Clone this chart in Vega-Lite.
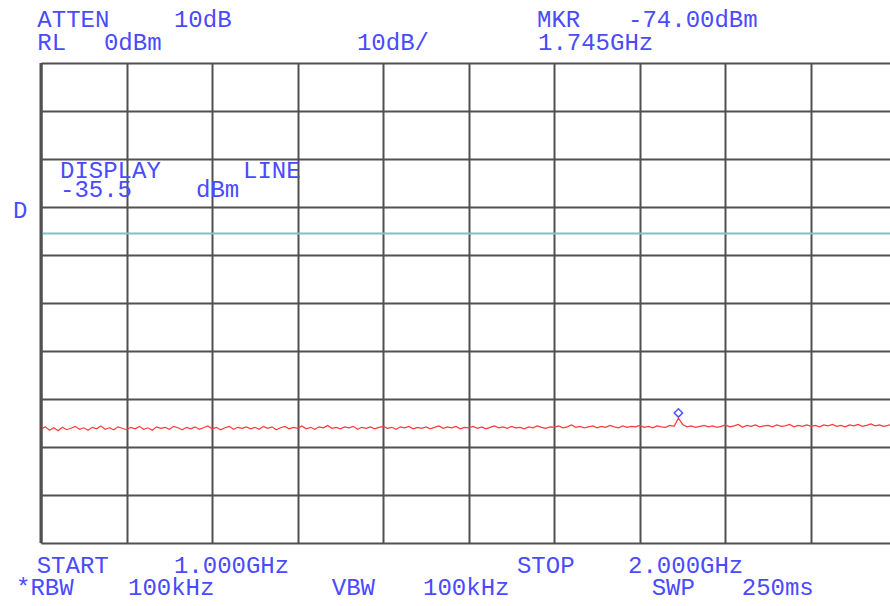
{
"$schema": "https://vega.github.io/schema/vega-lite/v6.json",
"width": 849, "height": 480,
"autosize": {"type": "none"},
"padding": {"left": 41, "top": 63, "right": 0, "bottom": 63},
"background": "white",
"config": {"view": {"stroke": null},
"axis": {"grid": true, "gridColor": "#505050", "gridWidth": 2, "gridOpacity": 1, "labels": false, "ticks": false, "domain": false}},
"datasets": {
"trace": [
{"f":1.000,"v":-76.3},{"f":1.005,"v":-75.8},{"f":1.010,"v":-76.5},{"f":1.015,"v":-76.0},{"f":1.020,"v":-76.6},{"f":1.025,"v":-75.9},{"f":1.030,"v":-76.4},{"f":1.035,"v":-76.1},{"f":1.040,"v":-75.7},{"f":1.045,"v":-76.3},
{"f":1.050,"v":-76.0},{"f":1.055,"v":-76.5},{"f":1.060,"v":-75.9},{"f":1.065,"v":-76.2},{"f":1.070,"v":-75.6},{"f":1.075,"v":-76.3},{"f":1.080,"v":-76.0},{"f":1.085,"v":-76.4},{"f":1.090,"v":-75.8},{"f":1.095,"v":-76.1},
{"f":1.100,"v":-76.4},{"f":1.105,"v":-75.9},{"f":1.110,"v":-76.2},{"f":1.115,"v":-75.7},{"f":1.120,"v":-76.3},{"f":1.125,"v":-76.0},{"f":1.130,"v":-76.5},{"f":1.135,"v":-75.8},{"f":1.140,"v":-76.1},{"f":1.145,"v":-75.9},
{"f":1.150,"v":-76.3},{"f":1.155,"v":-75.7},{"f":1.160,"v":-76.0},{"f":1.165,"v":-76.4},{"f":1.170,"v":-75.9},{"f":1.175,"v":-76.2},{"f":1.180,"v":-75.8},{"f":1.185,"v":-76.3},{"f":1.190,"v":-76.0},{"f":1.195,"v":-75.6},
{"f":1.200,"v":-76.2},{"f":1.205,"v":-75.9},{"f":1.210,"v":-76.4},{"f":1.215,"v":-76.0},{"f":1.220,"v":-75.7},{"f":1.225,"v":-76.3},{"f":1.230,"v":-75.9},{"f":1.235,"v":-76.1},{"f":1.240,"v":-75.8},{"f":1.245,"v":-76.2},
{"f":1.250,"v":-75.9},{"f":1.255,"v":-76.3},{"f":1.260,"v":-75.7},{"f":1.265,"v":-76.1},{"f":1.270,"v":-75.8},{"f":1.275,"v":-76.4},{"f":1.280,"v":-76.0},{"f":1.285,"v":-75.7},{"f":1.290,"v":-76.2},{"f":1.295,"v":-75.9},
{"f":1.300,"v":-76.1},{"f":1.305,"v":-75.6},{"f":1.310,"v":-76.2},{"f":1.315,"v":-75.9},{"f":1.320,"v":-76.3},{"f":1.325,"v":-75.8},{"f":1.330,"v":-76.0},{"f":1.335,"v":-75.5},{"f":1.340,"v":-76.1},{"f":1.345,"v":-75.9},
{"f":1.350,"v":-76.2},{"f":1.355,"v":-75.8},{"f":1.360,"v":-76.0},{"f":1.365,"v":-75.7},{"f":1.370,"v":-76.3},{"f":1.375,"v":-75.9},{"f":1.380,"v":-76.1},{"f":1.385,"v":-75.8},{"f":1.390,"v":-76.2},{"f":1.395,"v":-75.9},
{"f":1.400,"v":-75.7},{"f":1.405,"v":-76.1},{"f":1.410,"v":-75.9},{"f":1.415,"v":-76.3},{"f":1.420,"v":-75.8},{"f":1.425,"v":-76.0},{"f":1.430,"v":-75.7},{"f":1.435,"v":-76.2},{"f":1.440,"v":-75.9},{"f":1.445,"v":-76.1},
{"f":1.450,"v":-75.8},{"f":1.455,"v":-76.2},{"f":1.460,"v":-75.9},{"f":1.465,"v":-75.6},{"f":1.470,"v":-76.1},{"f":1.475,"v":-75.8},{"f":1.480,"v":-76.0},{"f":1.485,"v":-75.7},{"f":1.490,"v":-76.2},{"f":1.495,"v":-75.9},
{"f":1.500,"v":-76.0},{"f":1.505,"v":-75.7},{"f":1.510,"v":-76.1},{"f":1.515,"v":-75.8},{"f":1.520,"v":-76.2},{"f":1.525,"v":-75.9},{"f":1.530,"v":-75.6},{"f":1.535,"v":-76.0},{"f":1.540,"v":-75.8},{"f":1.545,"v":-76.1},
{"f":1.550,"v":-75.7},{"f":1.555,"v":-76.0},{"f":1.560,"v":-75.9},{"f":1.565,"v":-76.2},{"f":1.570,"v":-75.8},{"f":1.575,"v":-76.0},{"f":1.580,"v":-75.6},{"f":1.585,"v":-75.9},{"f":1.590,"v":-76.1},{"f":1.595,"v":-75.8},
{"f":1.600,"v":-75.9},{"f":1.605,"v":-75.6},{"f":1.610,"v":-76.0},{"f":1.615,"v":-75.8},{"f":1.620,"v":-75.4},{"f":1.625,"v":-75.9},{"f":1.630,"v":-75.7},{"f":1.635,"v":-76.0},{"f":1.640,"v":-75.8},{"f":1.645,"v":-75.6},
{"f":1.650,"v":-76.0},{"f":1.655,"v":-75.7},{"f":1.660,"v":-75.9},{"f":1.665,"v":-75.5},{"f":1.670,"v":-75.8},{"f":1.675,"v":-76.0},{"f":1.680,"v":-75.6},{"f":1.685,"v":-75.9},{"f":1.690,"v":-75.7},{"f":1.695,"v":-75.8},
{"f":1.700,"v":-75.5},{"f":1.705,"v":-75.9},{"f":1.710,"v":-75.7},{"f":1.715,"v":-76.0},{"f":1.720,"v":-75.6},{"f":1.725,"v":-75.8},{"f":1.730,"v":-75.9},{"f":1.735,"v":-75.5},{"f":1.740,"v":-75.7},{"f":1.745,"v":-74.0},
{"f":1.750,"v":-75.3},{"f":1.755,"v":-75.8},{"f":1.760,"v":-75.6},{"f":1.765,"v":-75.9},{"f":1.770,"v":-75.7},{"f":1.775,"v":-75.5},{"f":1.780,"v":-75.8},{"f":1.785,"v":-75.6},{"f":1.790,"v":-75.9},{"f":1.795,"v":-75.7},
{"f":1.800,"v":-75.4},{"f":1.805,"v":-75.8},{"f":1.810,"v":-75.6},{"f":1.815,"v":-75.3},{"f":1.820,"v":-75.9},{"f":1.825,"v":-75.5},{"f":1.830,"v":-75.7},{"f":1.835,"v":-75.4},{"f":1.840,"v":-75.8},{"f":1.845,"v":-75.6},
{"f":1.850,"v":-75.5},{"f":1.855,"v":-75.8},{"f":1.860,"v":-75.4},{"f":1.865,"v":-75.7},{"f":1.870,"v":-75.6},{"f":1.875,"v":-75.3},{"f":1.880,"v":-75.8},{"f":1.885,"v":-75.5},{"f":1.890,"v":-75.7},{"f":1.895,"v":-75.4},
{"f":1.900,"v":-75.7},{"f":1.905,"v":-75.5},{"f":1.910,"v":-75.8},{"f":1.915,"v":-75.4},{"f":1.920,"v":-75.6},{"f":1.925,"v":-75.3},{"f":1.930,"v":-75.7},{"f":1.935,"v":-75.5},{"f":1.940,"v":-75.8},{"f":1.945,"v":-75.4},
{"f":1.950,"v":-75.6},{"f":1.955,"v":-75.3},{"f":1.960,"v":-75.7},{"f":1.965,"v":-75.5},{"f":1.970,"v":-75.2},{"f":1.975,"v":-75.6},{"f":1.980,"v":-75.4},{"f":1.985,"v":-75.7},{"f":1.990,"v":-75.5},{"f":1.995,"v":-75.3},
{"f":2.000,"v":-75.6}
],
"labels": [
{"f":0.9957,"v":9.0,"t":"ATTEN"},
{"f":1.1554,"v":9.0,"t":"10dB"},
{"f":0.9957,"v":4.1,"t":"RL"},
{"f":1.0736,"v":4.1,"t":"0dBm"},
{"f":1.3693,"v":4.1,"t":"10dB/"},
{"f":1.5797,"v":9.0,"t":"MKR"},
{"f":1.6861,"v":9.0,"t":"-74.00dBm"},
{"f":1.5809,"v":4.1,"t":"1.745GHz"},
{"f":1.0222,"v":-22.5,"t":"DISPLAY"},
{"f":1.2361,"v":-22.5,"t":"LINE"},
{"f":1.0222,"v":-26.5,"t":"-35.5"},
{"f":1.1812,"v":-26.5,"t":"dBm"},
{"f":0.9673,"v":-30.9,"t":"D"},
{"f":0.9950,"v":-104.8,"t":"START"},
{"f":1.1554,"v":-104.8,"t":"1.000GHz"},
{"f":1.5563,"v":-104.8,"t":"STOP"},
{"f":1.6861,"v":-104.8,"t":"2.000GHz"},
{"f":0.9708,"v":-109.4,"t":"*RBW"},
{"f":1.1017,"v":-109.4,"t":"100kHz"},
{"f":1.3398,"v":-109.4,"t":"VBW"},
{"f":1.4465,"v":-109.4,"t":"100kHz"},
{"f":1.7138,"v":-109.4,"t":"SWP"},
{"f":1.8190,"v":-109.4,"t":"250ms"}
]
},
"layer": [
{
"data": {"name": "trace"},
"mark": {"type": "line", "color": "#ff3a3a", "strokeWidth": 1.2, "clip": true, "interpolate": "linear"},
"encoding": {
"x": {"field": "f", "type": "quantitative", "title": null, "scale": {"domain": [1, 1.9923], "nice": false, "zero": false},
"axis": {"values": [1, 1.1, 1.2, 1.3, 1.4, 1.5, 1.6, 1.7, 1.8, 1.9], "title": null}},
"y": {"field": "v", "type": "quantitative", "title": null, "scale": {"domain": [-100, 0], "nice": false, "zero": false},
"axis": {"values": [-100, -90, -80, -70, -60, -50, -40, -30, -20, -10, 0], "title": null}}
}
},
{
"data": {"values": [{"v": -35.5}]},
"mark": {"type": "rule", "color": "#7cc4c4", "strokeWidth": 2},
"encoding": {"y": {"field": "v", "type": "quantitative", "title": null}}
},
{
"data": {"values": [{"f": 1.0}]},
"mark": {"type": "rule", "color": "#505050", "strokeWidth": 3},
"encoding": {"x": {"field": "f", "type": "quantitative", "title": null}}
},
{
"data": {"values": [{"f": 1.745, "v": -72.9}]},
"mark": {"type": "point", "shape": "diamond", "filled": false, "color": "#5050ff", "size": 70, "strokeWidth": 1.5, "opacity": 1},
"encoding": {"x": {"field": "f", "type": "quantitative", "title": null}, "y": {"field": "v", "type": "quantitative", "title": null}}
},
{
"data": {"name": "labels"},
"mark": {"type": "text", "align": "left", "baseline": "middle", "font": "Liberation Mono", "fontSize": 24, "color": "#4a4aff"},
"encoding": {
"x": {"field": "f", "type": "quantitative", "title": null},
"y": {"field": "v", "type": "quantitative", "title": null},
"text": {"field": "t"}
}
}
]
}
